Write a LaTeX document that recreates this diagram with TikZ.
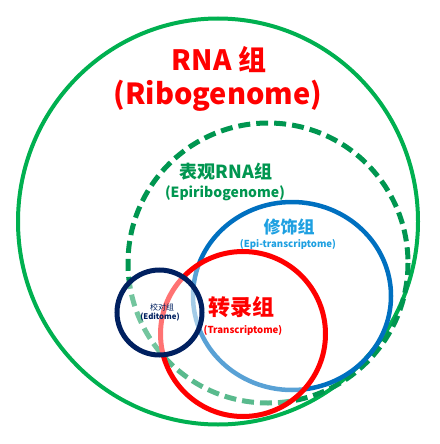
\documentclass[tikz,border=0pt]{standalone}
\usepackage{fontspec}
\setmainfont{Noto Sans CJK SC}
\definecolor{outergreen}{RGB}{0,176,80}
\definecolor{dashgreen}{RGB}{0,150,80}
\definecolor{blueline}{RGB}{0,112,192}
\definecolor{bluetext}{RGB}{30,160,225}
\definecolor{redline}{RGB}{255,0,0}
\definecolor{navyline}{RGB}{0,32,96}
\tikzset{
  lbl/.style={inner sep=0pt, font=\bfseries},
}
\begin{document}
\begin{tikzpicture}[x=1pt,y=-1pt]
\useasboundingbox (0,0) rectangle (439,444);
% outer RNA circle
\draw[outergreen, line width=4] (218,221.5) ellipse [x radius=200, y radius=203];
% dashed epiribogenome circle
\draw[dashgreen, line width=5, dash pattern=on 12pt off 6pt] (268,263) circle [radius=140];
% blue epi-transcriptome
\draw[blueline, line width=4.5] (292,296) ellipse [x radius=99, y radius=94];
% red transcriptome (semi-transparent white fill)
\fill[white, opacity=0.35] (243,334) circle [radius=82.5];
\draw[redline, line width=5] (243,334) circle [radius=82.5];
% navy editome
\fill[white, opacity=0.45] (159.5,312.5) circle [radius=42.5];
\draw[navyline, line width=5] (159.5,312.5) circle [radius=42.5];
% labels
\node[lbl, text=redline, font=\bfseries\fontsize{28}{30}\selectfont] (t1) at (219,60) {RNA 组};
\node[lbl, text=redline, font=\bfseries\fontsize{29}{31}\selectfont] (t2) at (218,96) {(Ribogenome)};
\node[lbl, text=dashgreen, font=\bfseries\fontsize{18}{20}\selectfont] (t3) at (226,172) {表观RNA组};
\node[lbl, text=dashgreen, font=\bfseries\fontsize{14}{16}\selectfont] (t4) at (225,193) {(Epiribogenome)};
\node[lbl, text=bluetext, font=\bfseries\fontsize{17}{19}\selectfont] (t5) at (289,227) {修饰组};
\node[lbl, text=bluetext, font=\bfseries\fontsize{9.6}{11}\selectfont] (t6) at (288,244) {(Epi-transcriptome)};
\node[lbl, text=redline, font=\bfseries\fontsize{22}{24}\selectfont] (t7) at (241,307) {转录组};
\node[lbl, text=redline, font=\bfseries\fontsize{9.6}{11}\selectfont] (t8) at (243,330) {(Transcriptome)};
\node[lbl, text=navyline, font=\fontsize{8}{9}\selectfont] (t9) at (162,307.5) {校对组};
\node[lbl, text=navyline, font=\bfseries\fontsize{7.8}{9}\selectfont] (t10) at (160,317.5) {(Editome)};
\end{tikzpicture}
\end{document}
